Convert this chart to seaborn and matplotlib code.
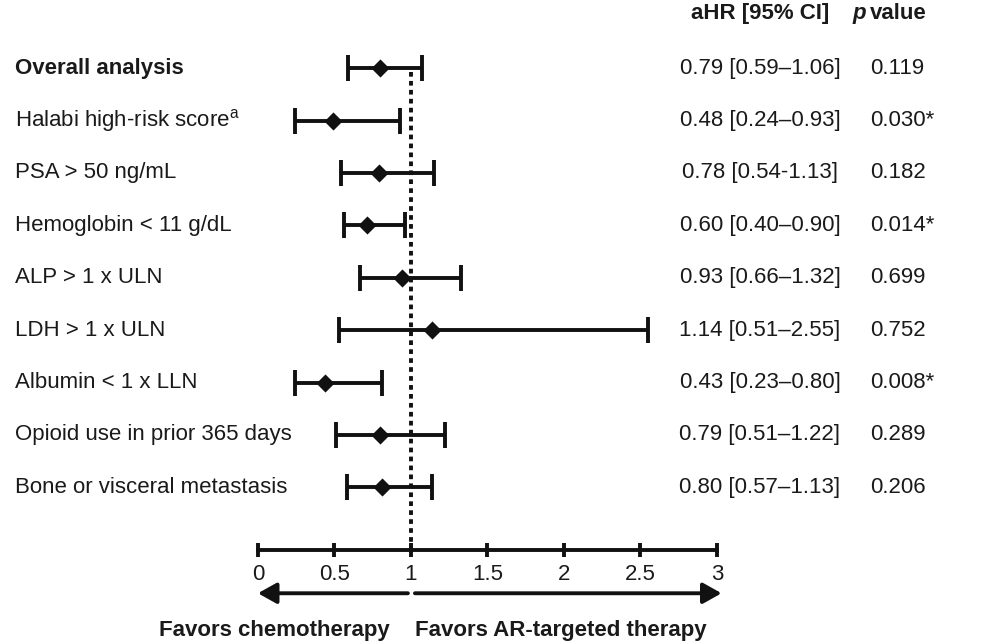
import matplotlib
matplotlib.use("Agg")
import numpy as np
import pandas as pd
import seaborn as sns
import matplotlib.pyplot as plt

sns.set_style("white")
plt.rcParams['font.family'] = ['Liberation Sans', 'DejaVu Sans']
plt.rcParams['mathtext.fontset'] = 'custom'
plt.rcParams['mathtext.rm'] = 'Liberation Sans'

# ------ data ------ #
labels = [
    "Overall analysis", "Halabi high-risk score$^{\\mathrm{a}}$", "PSA > 50 ng/mL",
    "Hemoglobin < 11 g/dL", "ALP > 1 x ULN", "LDH > 1 x ULN",
    "Albumin < 1 x LLN", "Opioid use in prior 365 days", "Bone or visceral metastasis",
]
# positions of the drawn marks
hr = [0.80, 0.49, 0.79, 0.71, 0.94, 1.14, 0.44, 0.80, 0.81]
ci_low = [0.59, 0.24, 0.54, 0.56, 0.67, 0.53, 0.24, 0.51, 0.58]
ci_high = [1.07, 0.93, 1.15, 0.96, 1.33, 2.55, 0.81, 1.22, 1.14]
# printed columns
ci_text = [
    "0.79 [0.59–1.06]", "0.48 [0.24–0.93]", "0.78 [0.54-1.13]",
    "0.60 [0.40–0.90]", "0.93 [0.66–1.32]", "1.14 [0.51–2.55]",
    "0.43 [0.23–0.80]", "0.79 [0.51–1.22]", "0.80 [0.57–1.13]",
]
p_text = ["0.119", "0.030*", "0.182", "0.014*", "0.699", "0.752", "0.008*", "0.289", "0.206"]
xticks = [0, 0.5, 1, 1.5, 2, 2.5, 3]
xtick_labels = ["0", "0.5", "1", "1.5", "2", "2.5", "3"]

df = pd.DataFrame({"label": labels, "hr": hr, "lo": ci_low, "hi": ci_high,
                   "row": np.arange(len(labels))})

ink = "#111111"
txt = "#1a1a1a"
fs = 16
lw = 2.8
axis_y = 9.20
fig = plt.figure(figsize=(10, 6.42), dpi=100)
ax = fig.add_axes([0, 0, 1, 1])
ax.set_xlim(-1.686, 4.850)
ax.set_ylim(10.95, -1.30)

# ------ reference line at HR = 1 ------ #
ax.plot([1, 1], [0.08, axis_y], color=ink, lw=lw, linestyle=(0, (1.2, 1.1)), zorder=1)

# ------ CI bars and point estimates ------ #
ax.errorbar(df["hr"], df["row"], xerr=[df["hr"] - df["lo"], df["hi"] - df["hr"]],
            fmt="none", ecolor=ink, elinewidth=lw, capsize=9.7, capthick=lw, zorder=2)
sns.scatterplot(data=df, x="hr", y="row", marker="D", s=85, color=ink,
                edgecolor=ink, linewidth=0, ax=ax, zorder=3, legend=False)

# ------ x axis ------ #
for side in ["left", "right", "top"]:
    ax.spines[side].set_visible(False)
ax.spines["bottom"].set_position(("data", axis_y))
ax.spines["bottom"].set_bounds(0, 3)
ax.spines["bottom"].set_linewidth(lw)
ax.spines["bottom"].set_color(ink)
ax.set_xticks(xticks)
ax.set_xticklabels(xtick_labels, fontsize=fs, color=txt)
ax.tick_params(axis="x", bottom=True, direction="inout", length=9.5, width=lw,
               color=ink, pad=5)
ax.set_yticks([])
ax.set_xlabel("")
ax.set_ylabel("")

# ------ text columns ------ #
for i, (lab, ci, p) in enumerate(zip(labels, ci_text, p_text)):
    ax.text(-1.588, i, lab, fontsize=fs, va="center", ha="left", color=txt,
            fontweight="bold" if i == 0 else "normal")
    ax.text(3.281, i, ci, fontsize=fs, va="center", ha="center", color=txt)
    ax.text(4.0, i, p, fontsize=fs, va="center", ha="left", color=txt)

ax.text(3.281, -1.05, "aHR [95% CI]", fontsize=fs, fontweight="bold", ha="center",
        va="center", color=txt)
ax.text(3.974, -1.05, "p", fontsize=fs, fontweight="bold", style="italic", ha="right",
        va="center", color=txt)
ax.text(4.0, -1.05, "value", fontsize=fs, fontweight="bold", ha="left", va="center", color=txt)

# ------ direction arrows ------ #
arrow = dict(arrowstyle="-|>,head_length=0.75,head_width=0.42", color=ink, lw=lw,
             shrinkA=0, shrinkB=0, mutation_scale=15)
ax.annotate("", xy=(0, 10.02), xytext=(0.980, 10.02), arrowprops=arrow, annotation_clip=False)
ax.annotate("", xy=(3.03, 10.02), xytext=(1.026, 10.02), arrowprops=arrow, annotation_clip=False)
ax.text(0.863, 10.73, "Favors chemotherapy", fontsize=fs, fontweight="bold", ha="right",
        va="center", color=txt)
ax.text(1.026, 10.73, "Favors AR-targeted therapy", fontsize=fs, fontweight="bold", ha="left",
        va="center", color=txt)

plt.savefig("out.png", dpi=100, facecolor="w")
